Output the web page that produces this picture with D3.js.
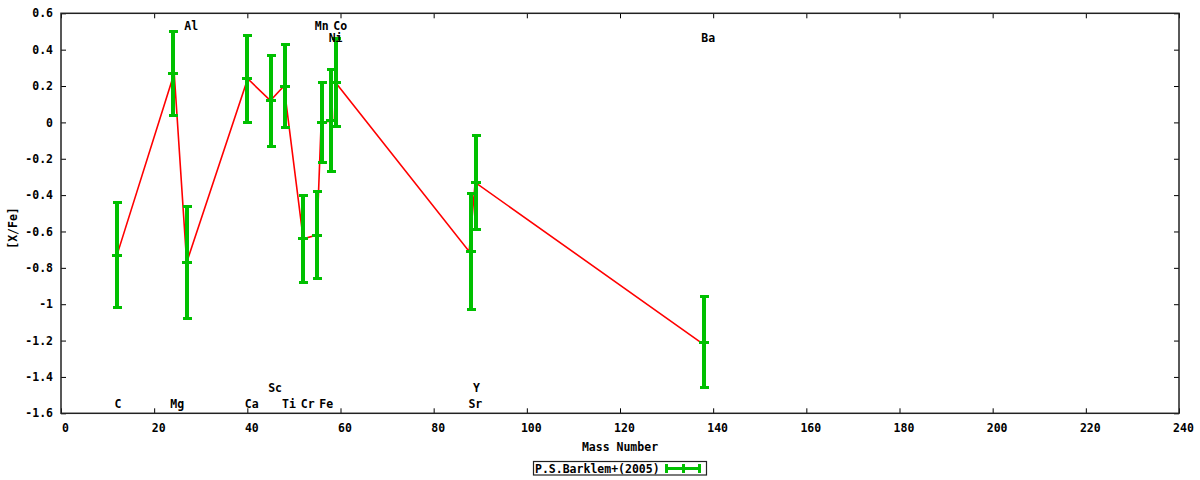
<!DOCTYPE html>
<html>
<head>
<meta charset="utf-8">
<script src="https://cdn.jsdelivr.net/npm/d3@7"></script>
<style>
  html, body { margin: 0; padding: 0; background: #fff; }
  svg text { font-family: "DejaVu Sans Mono", "Liberation Mono", monospace; font-weight: bold; font-size: 11.5px; fill: #000; }
</style>
</head>
<body>
<svg id="chart" width="1200" height="480"></svg>
<script>
// ---- data ----
const elements     = ["C", "Mg", "Al", "Ca", "Sc", "Ti", "Cr", "Mn", "Fe", "Ni", "Co", "Sr", "Y", "Ba"];
const massNumber   = [12, 24, 27, 40, 45, 48, 52, 55, 56, 58, 59, 88, 89, 138];
const atomicWeight = [12.011, 24.305, 26.982, 40.078, 44.956, 47.867, 51.996, 54.938, 55.845, 58.693, 58.933, 87.62, 88.906, 137.327];
const xFeValues    = [-0.73, 0.27, -0.77, 0.24, 0.12, 0.20, -0.64, -0.62, 0.00, 0.01, 0.22, -0.71, -0.33, -1.21];
const xFeErrors    = [0.29, 0.23, 0.31, 0.24, 0.25, 0.23, 0.24, 0.24, 0.22, 0.28, 0.24, 0.32, 0.26, 0.25];
const labelRows    = ["b1", "b1", "t1", "b1", "b2", "b1", "b1", "t1", "b1", "t2", "t1", "b1", "b2", "t2"];
const xTicks = [0, 20, 40, 60, 80, 100, 120, 140, 160, 180, 200, 220, 240];
const yTicks = [0.6, 0.4, 0.2, 0, -0.2, -0.4, -0.6, -0.8, -1, -1.2, -1.4, -1.6];
const seriesName = "P.S.Barklem+(2005)";
const xTitle = "Mass Number";
const yTitle = "[X/Fe]";

// ---- layout ----
const L = 61, R = 1179, T = 13.3, B = 413.3;
const svg = d3.select("#chart");
const x = d3.scaleLinear().domain([0, 240]).range([L, R]);
const y = d3.scaleLinear().domain([-1.6, 0.6]).range([B, T]);
const GREEN = "#00c000", RED = "#ff0000";
const fmt = d => String(+d.toFixed(1));

// axes (ticks inward, mirrored)
const gB = svg.append("g").attr("transform", `translate(0,${B})`)
  .call(d3.axisBottom(x).tickValues(xTicks).tickSize(-5).tickPadding(11).tickFormat(fmt));
gB.selectAll("text").attr("dx", 4);
const gT = svg.append("g").attr("transform", `translate(0,${T})`)
  .call(d3.axisTop(x).tickValues(xTicks).tickSize(-5).tickFormat(""));
const gL = svg.append("g").attr("transform", `translate(${L},0)`)
  .call(d3.axisLeft(y).tickValues(yTicks).tickSize(-5).tickPadding(8).tickFormat(fmt));
const gR = svg.append("g").attr("transform", `translate(${R},0)`)
  .call(d3.axisRight(y).tickValues(yTicks).tickSize(-5).tickFormat(""));
[gB, gT, gL, gR].forEach(g => {
  g.select(".domain").remove();
  g.selectAll("line").attr("stroke", "#000").attr("stroke-width", 1);
  g.selectAll("text").attr("font-family", null).attr("font-size", null);
  g.attr("font-family", null).attr("font-size", null);
});

// border
svg.append("rect").attr("x", L).attr("y", T).attr("width", R - L).attr("height", B - T)
  .attr("fill", "none").attr("stroke", "#222").attr("stroke-width", 1.5);

// titles
svg.append("text").attr("x", (L + R) / 2).attr("y", 451).attr("text-anchor", "middle").text(xTitle);
svg.append("text").attr("transform", "translate(17,228) rotate(-90)").attr("text-anchor", "middle").text(yTitle);

// data
const data = elements.map((e, i) => ({
  el: e, mass: massNumber[i], aw: atomicWeight[i], v: xFeValues[i], err: xFeErrors[i], row: labelRows[i]
}));

// red line (through atomic weights)
svg.append("path").datum(data)
  .attr("d", d3.line().x(d => x(d.aw)).y(d => y(d.v)))
  .attr("fill", "none").attr("stroke", RED).attr("stroke-width", 1.6);

// error bars
const eb = svg.append("g").attr("stroke", GREEN).attr("shape-rendering", "crispEdges");
data.forEach(d => {
  const cx = Math.round(x(d.mass));
  eb.append("line").attr("x1", cx).attr("x2", cx).attr("y1", y(d.v + d.err)).attr("y2", y(d.v - d.err)).attr("stroke-width", 4);
  [d.v + d.err, d.v - d.err].forEach(val => {
    eb.append("line").attr("x1", cx - 4.5).attr("x2", cx + 4.5).attr("y1", y(val)).attr("y2", y(val)).attr("stroke-width", 3);
  });
  eb.append("line").attr("x1", cx - 5).attr("x2", cx + 5).attr("y1", y(d.v)).attr("y2", y(d.v)).attr("stroke-width", 3);
});

// element labels
const rowY = { t1: T + 17, t2: T + 29, b1: B - 5.5, b2: B - 21.5 };
svg.append("g").selectAll("text").data(data).join("text")
  .attr("x", d => x(d.mass) - 2.5).attr("y", d => rowY[d.row])
  .attr("text-anchor", "start").text(d => d.el);

// legend
const lg = svg.append("g");
lg.append("rect").attr("x", 533.5).attr("y", 461.5).attr("width", 173).attr("height", 13.5)
  .attr("fill", "#fff").attr("stroke", "#222").attr("stroke-width", 1.2);
lg.append("text").attr("x", 535).attr("y", 472.5).text(seriesName);
const lgs = lg.append("g").attr("stroke", GREEN).attr("shape-rendering", "crispEdges");
lgs.append("line").attr("x1", 665).attr("x2", 701).attr("y1", 468.5).attr("y2", 468.5).attr("stroke-width", 3);
[666.5, 683, 699.5].forEach(px => {
  lgs.append("line").attr("x1", px).attr("x2", px).attr("y1", 464).attr("y2", 473).attr("stroke-width", 3);
});
</script>
</body>
</html>
